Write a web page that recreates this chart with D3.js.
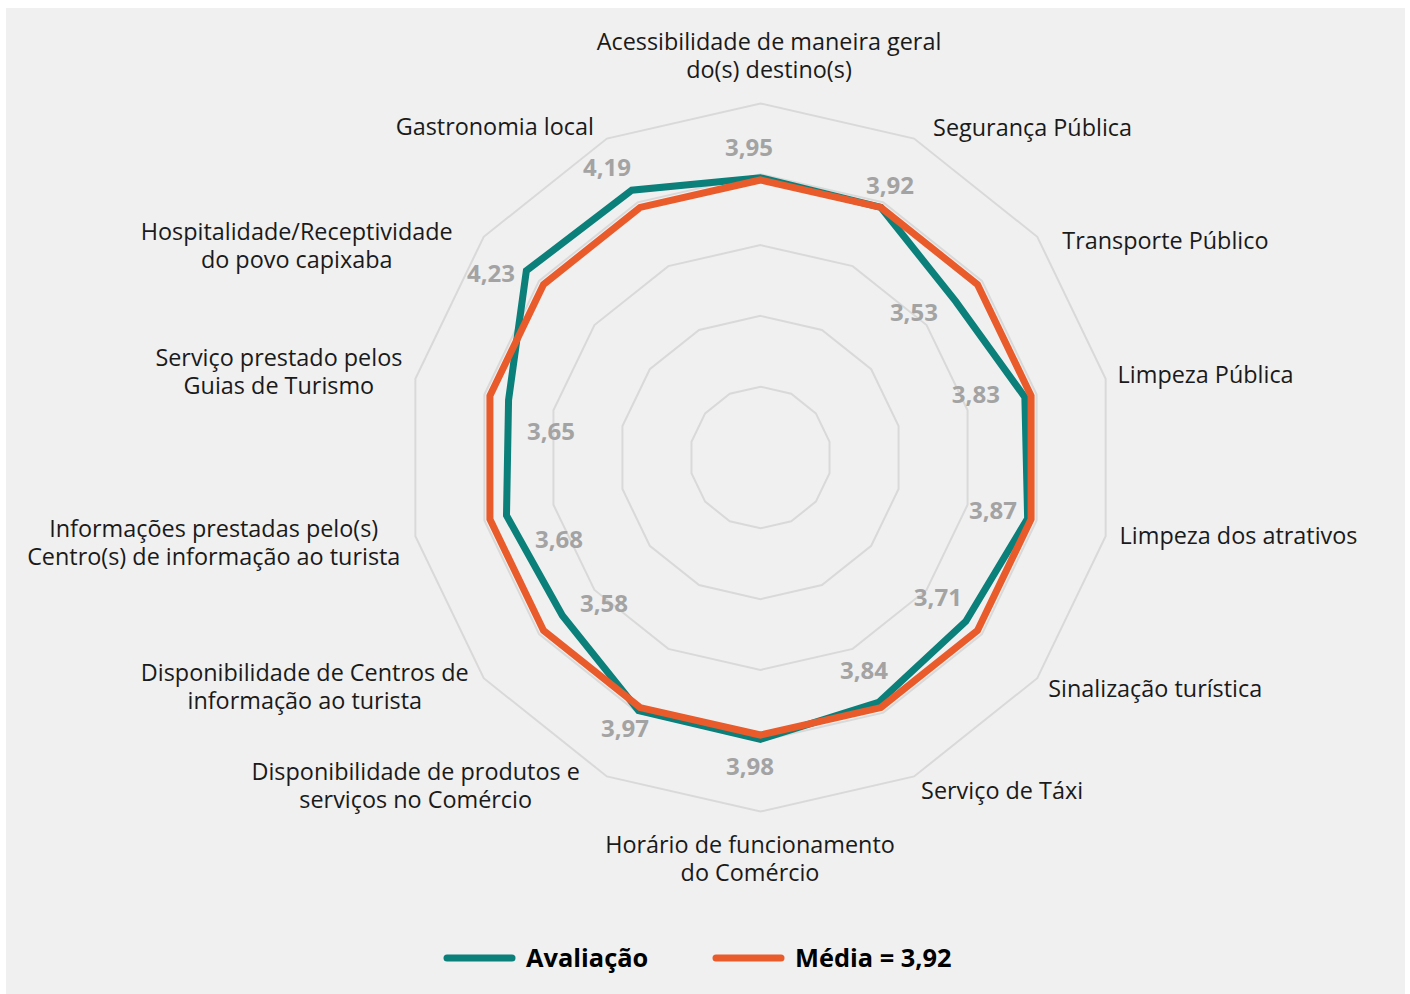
<!DOCTYPE html>
<html>
<head>
<meta charset="utf-8">
<script src="https://cdn.jsdelivr.net/npm/d3@7"></script>
<style>
  html, body { margin: 0; padding: 0; background: #ffffff; }
  svg { display: block; }
  text { font-family: "Open Sans", "Noto Sans", sans-serif; }
  .cat-wrap { width: 100%; height: 100%; display: flex; align-items: flex-start; }
  .cat { font-family: "Open Sans", "Noto Sans", sans-serif; color: #1a1a1a; white-space: pre; margin: 0; padding: 0; }
</style>
</head>
<body>
<svg id="chart" width="1410" height="994"></svg>
<script>
// ---------- data ----------
const categories = [
  "Acessibilidade de maneira geral\ndo(s) destino(s)",
  "Segurança Pública",
  "Transporte Público",
  "Limpeza Pública",
  "Limpeza dos atrativos",
  "Sinalização turística",
  "Serviço de Táxi",
  "Horário de funcionamento\ndo Comércio",
  "Disponibilidade de produtos e\nserviços no Comércio",
  "Disponibilidade de Centros de\ninformação ao turista",
  "Informações prestadas pelo(s)\nCentro(s) de informação ao turista",
  "Serviço prestado pelos\nGuias de Turismo",
  "Hospitalidade/Receptividade\ndo povo capixaba",
  "Gastronomia local"
];
const avaliacao = [3.95, 3.92, 3.53, 3.83, 3.87, 3.71, 3.84, 3.98, 3.97, 3.58, 3.68, 3.65, 4.23, 4.19];
const media     = [3.92, 3.92, 3.92, 3.92, 3.92, 3.92, 3.92, 3.92, 3.92, 3.92, 3.92, 3.92, 3.92, 3.92];
const gridTicks = [1, 2, 3, 4, 5];
const seriesNames = ["Avaliação", "Média = 3,92"];

// ---------- layout (not data) ----------
const cx = 760.5, cy = 457.5, R = 354;
const colors = ["#0b7f7a", "#e95b2b"];
// label nudges relative to outer-ring vertex [dx, dy]
const catNudge = [[8.5,-47.5],[19,-10.5],[25,4],[12,-4],[14,0],[11,11],[7,14.5],
                  [-10.5,47.5],[-27,9.5],[-15,9],[-15,7],[-13,-7],[-31,9],[-13,-11.5]];
// data label nudges relative to data point [dx, dy]
const valNudge = [[-11.5,-30],[9,-21.5],[-42,11],[-49,-3],[-34.6,-7.5],[-28,-24],[-14.5,-31.5],
                  [-10.5,27.7],[-13.5,18],[41.7,-11.5],[52.5,24.5],[42.4,32],[-35.4,3.2],[-24.8,-22.2]];

const svg = d3.select("#chart");
svg.append("rect").attr("x", 6).attr("y", 8).attr("width", 1399).attr("height", 986).attr("fill", "#f0f0f0");

const n = categories.length;
const angle = d3.scaleLinear().domain([0, n]).range([0, 2 * Math.PI]);
const r = d3.scaleLinear().domain([0, 5]).range([0, R]);

const g = svg.append("g").attr("transform", `translate(${cx},${cy})`);

// grid rings
const ringLine = d3.lineRadial().angle((d, i) => angle(i)).radius(d => r(d)).curve(d3.curveLinearClosed);
g.selectAll("path.ring").data(gridTicks).join("path")
  .attr("class", "ring")
  .attr("d", t => ringLine(d3.range(n).map(() => t)))
  .attr("fill", "none").attr("stroke", "#d9d9d9").attr("stroke-width", 2);

// series
const seriesLine = d3.lineRadial().angle((d, i) => angle(i)).radius(d => r(d)).curve(d3.curveLinearClosed);
[avaliacao, media].forEach((s, k) => {
  g.append("path").attr("d", seriesLine(s))
    .attr("fill", "none").attr("stroke", colors[k]).attr("stroke-width", 7)
    .attr("stroke-linejoin", "miter");
});

// data labels
const fmt = v => d3.format(".2f")(v).replace(".", ",");
avaliacao.forEach((v, i) => {
  const a = angle(i);
  const x = r(v) * Math.sin(a) + valNudge[i][0];
  const y = -r(v) * Math.cos(a) + valNudge[i][1];
  g.append("text").attr("x", x).attr("y", y).attr("dy", "0.35em")
    .attr("text-anchor", "middle").attr("font-size", 24).attr("font-weight", "bold")
    .attr("fill", "#a3a3a3").text(fmt(v));
});

// category labels: multi-line blocks with 28px line height
const lineH = 28;
const catFont = 23.4;
const boxW = 700;
categories.forEach((c, i) => {
  const a = angle(i);
  const ax = cx + R * Math.sin(a) + catNudge[i][0];
  const ay = cy - R * Math.cos(a) + catNudge[i][1];
  const nLines = c.split("\n").length;
  const h = nLines * lineH;
  let x, justify, align;
  if (i === 0 || i === n / 2) { x = ax - boxW / 2; justify = "center"; align = "center"; }
  else if (i < n / 2) { x = ax; justify = "flex-start"; align = "left"; }
  else { x = ax - boxW; justify = "flex-end"; align = "center"; }
  const fo = svg.append("foreignObject")
    .attr("x", x).attr("y", ay - h / 2 - 1).attr("width", boxW).attr("height", h + 4);
  const wrap = fo.append("xhtml:div").attr("class", "cat-wrap").style("justify-content", justify);
  wrap.append("xhtml:div").attr("class", "cat")
    .style("font-size", catFont + "px").style("line-height", lineH + "px")
    .style("text-align", align).text(c);
});

// legend
const legendX = [447, 716];
seriesNames.forEach((name, k) => {
  const lg = svg.append("g").attr("transform", `translate(${legendX[k]},958)`);
  lg.append("line").attr("x1", 0).attr("x2", 65).attr("y1", 0).attr("y2", 0)
    .attr("stroke", colors[k]).attr("stroke-width", 7).attr("stroke-linecap", "round");
  lg.append("text").attr("x", 79).attr("y", 0).attr("dy", "0.35em")
    .attr("font-size", 25.4).attr("font-weight", "bold").attr("fill", "#000").text(name);
});
</script>
</body>
</html>
